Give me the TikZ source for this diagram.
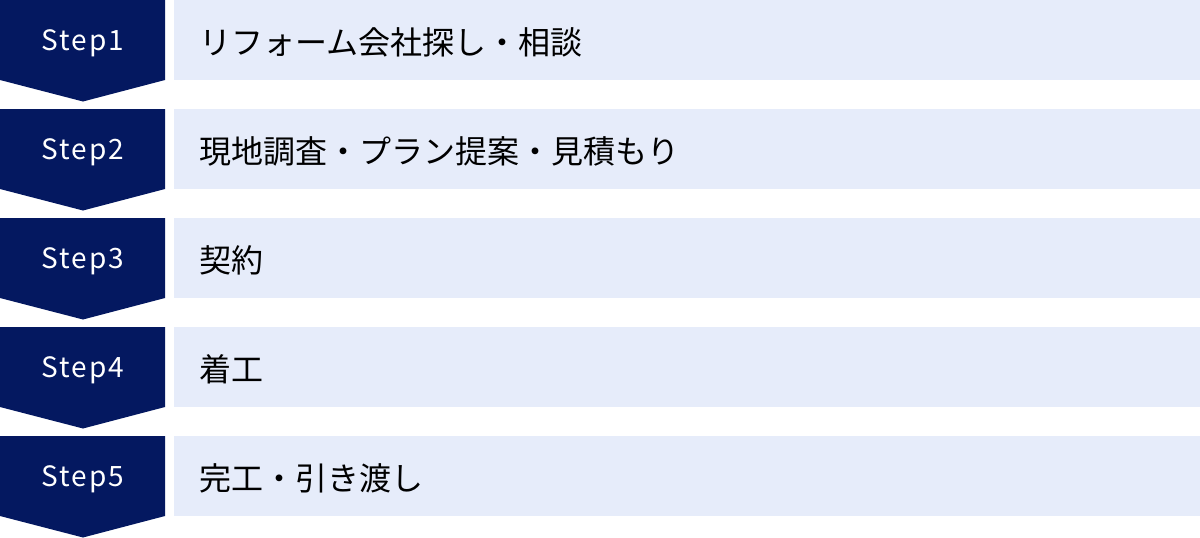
\documentclass[tikz,border=0pt]{standalone}
\usepackage{fontspec}
\setmainfont{Noto Sans CJK JP}
\definecolor{navy}{RGB}{4,24,96}
\definecolor{lightbox}{RGB}{230,236,250}
\tikzset{
  stepshape/.style={fill=navy, draw=none},
  steplabel/.style={text=white, font=\fontsize{28}{32}\selectfont, anchor=center, inner sep=0pt},
  contentbox/.style={fill=lightbox, draw=none},
  contentlabel/.style={text=black, font=\fontsize{32}{36}\selectfont, anchor=west, inner sep=0pt},
}
\begin{document}
\begin{tikzpicture}[x=1pt,y=-1pt]
\useasboundingbox (0,0) rectangle (1200,538);
\foreach \i/\txt in {1/リフォーム会社探し・相談, 2/現地調査・プラン提案・見積もり, 3/契約, 4/着工, 5/完工・引き渡し}{
  \pgfmathsetmacro{\t}{(\i-1)*109}
  \fill[stepshape] (0,\t) -- (165,\t) -- (165,\t+80) -- (83,\t+101.5) -- (0,\t+80) -- cycle;
  \fill[contentbox] (174,\t) rectangle (1200,\t+80);
  \node[steplabel] (s\i) at (83,\t+43) {\addfontfeatures{LetterSpace=7}Step\i};
  \node[contentlabel] (c\i) at (199,\t+42) {\txt};
}
\end{tikzpicture}
\end{document}
